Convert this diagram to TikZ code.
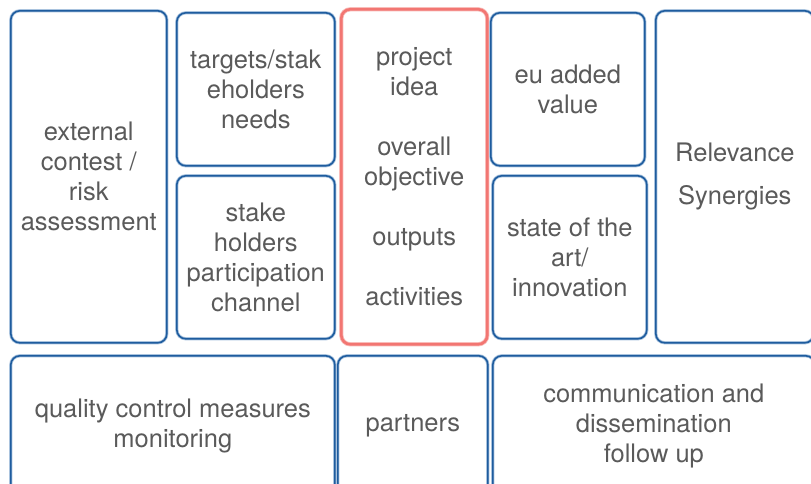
\documentclass[tikz,border=0pt]{standalone}
\usepackage{fontspec}
\setmainfont{TeX Gyre Heros}
\definecolor{bdark}{HTML}{1E5C9E}
\definecolor{blight}{HTML}{A9C3DE}
\definecolor{rdark}{HTML}{F27672}
\definecolor{rlight}{HTML}{F9BDBA}
\definecolor{txt}{HTML}{5A5A5A}
\tikzset{
  cell/.style={rounded corners=9pt, anchor=north west, align=center, text=txt,
    font=\fontsize{25.5}{30}\selectfont, inner sep=0pt,
    draw=bdark, line width=1.6pt,
    preaction={draw=blight, line width=3.2pt}},
  redcell/.style={cell, draw=rdark, line width=2.6pt,
    preaction={draw=rlight, line width=4.2pt}},
}
\begin{document}
\begin{tikzpicture}[x=1pt,y=-1pt]
\useasboundingbox[fill=white] (0,0) rectangle (811,483);
\node[cell, minimum width=156pt, minimum height=332pt] (ext) at (10,10)
  {external\\contest /\\risk\\assessment};
\node[cell, minimum width=158pt, minimum height=153pt] (tgt) at (176,12)
  {targets/stak\\eholders\\needs};
\node[cell, minimum width=158pt, minimum height=163pt] (stk) at (176,175)
  {stake\\holders\\participation\\channel};
\node[redcell, minimum width=146pt, minimum height=335pt] (proj) at (340,8)
  {project\\idea\\[30pt]overall\\objective\\[30pt]outputs\\[30pt]activities};
\node[cell, minimum width=154pt, minimum height=153pt] (eu) at (490,12)
  {eu added\\value};
\node[cell, minimum width=154pt, minimum height=163pt] (soa) at (492,175)
  {state of the\\art/\\innovation};
\node[cell, minimum width=158pt, minimum height=332pt] (rel) at (655,10)
  {Relevance\\[13pt]Synergies};
\node[cell, minimum width=324pt, minimum height=140pt] (qc) at (10,355)
  {quality control measures\\monitoring};
\node[cell, minimum width=150pt, minimum height=140pt] (prt) at (337,355)
  {partners};
\node[cell, minimum width=322pt, minimum height=140pt] (com) at (492,355)
  {communication and\\dissemination\\follow up};
\end{tikzpicture}
\end{document}
